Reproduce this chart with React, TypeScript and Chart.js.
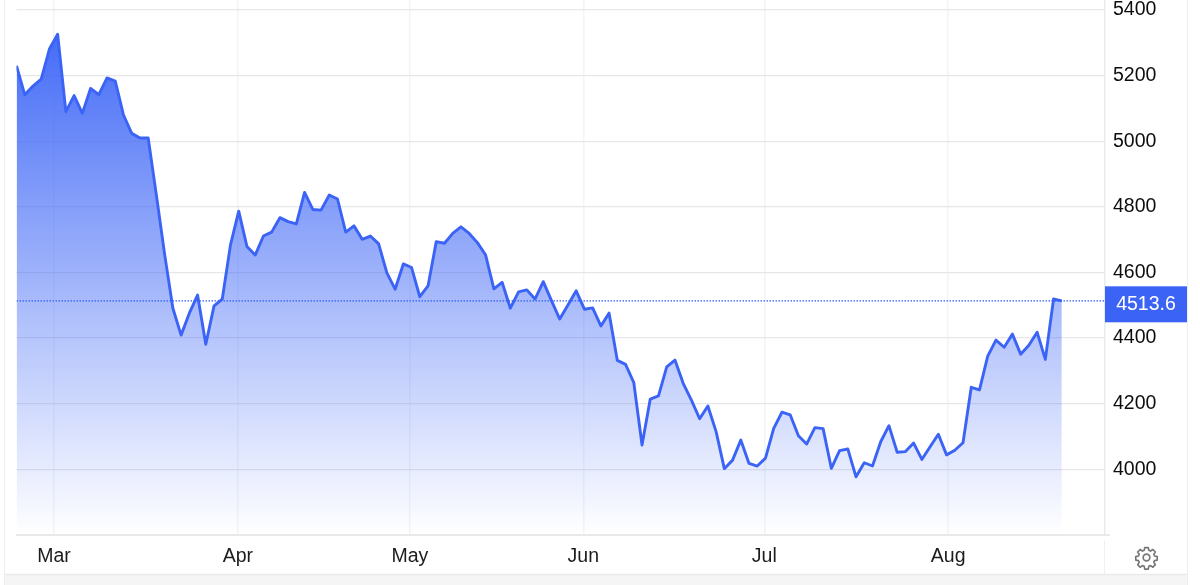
import React, { useEffect, useRef } from "react";
import { Chart, registerables } from "chart.js";

Chart.register(...registerables);

const prices = [
  5230, 5142, 5168, 5189, 5281, 5326, 5090, 5139, 5085, 5161, 5142, 5193, 5183, 5080, 5024, 5010,
  5010, 4835, 4655, 4491, 4409, 4476, 4531, 4381, 4498, 4519, 4684, 4787, 4679, 4653, 4711, 4723,
  4767, 4755, 4748, 4844, 4792, 4790, 4836, 4824, 4723, 4742, 4701, 4711, 4687, 4599, 4549, 4626,
  4615, 4526, 4559, 4694, 4689, 4719, 4739, 4719, 4691, 4653, 4550, 4570, 4491, 4541, 4547, 4519,
  4572, 4514, 4458, 4501, 4544, 4488, 4492, 4437, 4476, 4332, 4320, 4264, 4074, 4214, 4224, 4312,
  4333, 4262, 4211, 4154, 4193, 4115, 4002, 4028, 4089, 4018, 4010, 4034, 4125, 4174, 4166, 4102,
  4077, 4127, 4124, 4003, 4057, 4062, 3977, 4020, 4010, 4084, 4133, 4052, 4054, 4080, 4030, 4069,
  4107, 4044, 4058, 4081, 4250, 4242, 4345, 4394, 4372, 4412, 4351, 4378, 4418, 4335, 4519, 4513.6,
];
const monthLabels = ["Mar", "Apr", "May", "Jun", "Jul", "Aug"];
const monthPositions = [4.56, 26.9, 47.8, 68.87, 90.86, 113.2];
const priceTicks = [4000, 4200, 4400, 4600, 4800, 5000, 5200, 5400];
const lastPrice = prices[prices.length - 1];

const FONT = '"Liberation Sans", Arial, sans-serif';
const BLUE = "#3b64f6";
const X_MAX = 132.25;
const Y_MIN = 3802.8;
const Y_MAX = 5430.5;

const chromePlugin = {
  id: "chrome",
  afterDraw(chart: any) {
    const { ctx, scales } = chart;
    const bottom = chart.chartArea.bottom;
    ctx.save();
    // outer frame and the strip under the chart
    ctx.fillStyle = "#f5f5f6";
    ctx.fillRect(4.5, 575, 1182.5, 10);
    ctx.strokeStyle = "#e9eaec";
    ctx.lineWidth = 1.5;
    ctx.beginPath();
    ctx.moveTo(4.5, 574.5);
    ctx.lineTo(1187, 574.5);
    ctx.stroke();
    ctx.strokeStyle = "#eceff3";
    ctx.lineWidth = 1;
    ctx.beginPath();
    ctx.moveTo(4.5, 0);
    ctx.lineTo(4.5, 585);
    ctx.moveTo(1187.5, 0);
    ctx.lineTo(1187.5, 585);
    ctx.moveTo(1104.5, 541);
    ctx.lineTo(1104.5, 574);
    ctx.stroke();
    // bottom axis rule
    ctx.strokeStyle = "#e9e9ea";
    ctx.lineWidth = 2;
    ctx.beginPath();
    ctx.moveTo(16, bottom + 1);
    ctx.lineTo(1110, bottom + 1);
    ctx.stroke();
    // last price label
    const y = scales.y.getPixelForValue(lastPrice);
    ctx.fillStyle = BLUE;
    ctx.fillRect(1105, y - 14.5, 82, 36);
    ctx.fillStyle = "#ffffff";
    ctx.font = `19.5px ${FONT}`;
    ctx.textAlign = "center";
    ctx.textBaseline = "middle";
    ctx.fillText(lastPrice.toFixed(1), 1146, y + 4);
    ctx.restore();
  },
};

export default function App() {
  const ref = useRef<HTMLCanvasElement>(null);

  useEffect(() => {
    document.body.style.margin = "0";
    document.body.style.background = "#fff";
    const chart = new Chart(ref.current as HTMLCanvasElement, {
      type: "line",
      data: {
        datasets: [
          {
            data: [
              { x: 0, y: lastPrice },
              { x: X_MAX, y: lastPrice },
            ],
            borderColor: "#2f5cf5",
            borderWidth: 1.2,
            borderDash: [1.5, 1.5],
            pointRadius: 0,
            fill: false,
          },
          {
            data: prices.map((y, x) => ({ x, y })),
            borderColor: BLUE,
            borderWidth: 2.9,
            borderJoinStyle: "round",
            pointRadius: 0,
            tension: 0,
            fill: "start",
            backgroundColor: (c: any) => {
              const area = c.chart.chartArea;
              if (!area) return "rgba(59,100,246,0.4)";
              const g = c.chart.ctx.createLinearGradient(0, 34, 0, area.bottom);
              g.addColorStop(0, "rgba(59,100,246,0.95)");
              g.addColorStop(1, "rgba(59,100,246,0)");
              return g;
            },
          },
        ],
      },
      options: {
        responsive: false,
        animation: false,
        layout: { padding: { left: 16.5, top: 0, right: 0, bottom: 0 } },
        plugins: { legend: { display: false }, tooltip: { enabled: false } },
        scales: {
          x: {
            type: "linear",
            min: 0,
            max: X_MAX,
            grid: { color: "#f1f4f9", lineWidth: 1.5, drawTicks: false },
            border: { display: false },
            ticks: {
              autoSkip: false,
              maxRotation: 0,
              padding: 11,
              color: "#1c1c1c",
              font: { family: FONT, size: 19.5 },
              callback: (_v: any, i: number) => monthLabels[i],
            },
            afterBuildTicks: (s: any) => {
              s.ticks = monthPositions.map((value) => ({ value }));
            },
            afterFit: (s: any) => {
              s.height = 51;
              s.paddingLeft = 0;
              s.paddingRight = 0;
            },
          },
          y: {
            position: "right",
            min: Y_MIN,
            max: Y_MAX,
            grid: { color: "#e7e7e9", lineWidth: 1.3, drawTicks: false },
            border: { color: "#e8ebf0", width: 1.5 },
            ticks: {
              autoSkip: false,
              padding: 8,
              color: "#0d0d0d",
              font: { family: FONT, size: 19.5 },
              callback: (v: any) => String(v),
            },
            afterBuildTicks: (s: any) => {
              s.ticks = priceTicks.map((value) => ({ value }));
            },
            afterFit: (s: any) => {
              s.width = 95;
              s.paddingTop = 0;
              s.paddingBottom = 0;
            },
          },
        },
      },
      plugins: [chromePlugin],
    } as any);
    return () => chart.destroy();
  }, []);

  return (
    <div style={{ position: "fixed", left: 0, top: 0, width: 1200, height: 585, background: "#fff" }}>
      <canvas ref={ref} width={1200} height={585} style={{ display: "block", width: 1200, height: 585 }} />
      <svg
        viewBox="0 0 24 24"
        width={25}
        height={25}
        style={{ position: "absolute", left: 1133.5, top: 545 }}
        fill="none"
        stroke="#777777"
        strokeWidth={1.6}
        strokeLinejoin="round"
      >
        <circle cx="12" cy="12" r="3.2" />
        <path d="M10.3 2.5h3.4l.5 2.6 1.7.7 2.2-1.5 2.4 2.4-1.5 2.2.7 1.7 2.6.5v3.4l-2.6.5-.7 1.7 1.5 2.2-2.4 2.4-2.2-1.5-1.7.7-.5 2.6h-3.4l-.5-2.6-1.7-.7-2.2 1.5-2.4-2.4 1.5-2.2-.7-1.7-2.6-.5v-3.4l2.6-.5.7-1.7-1.5-2.2 2.4-2.4 2.2 1.5 1.7-.7z" />
      </svg>
    </div>
  );
}
